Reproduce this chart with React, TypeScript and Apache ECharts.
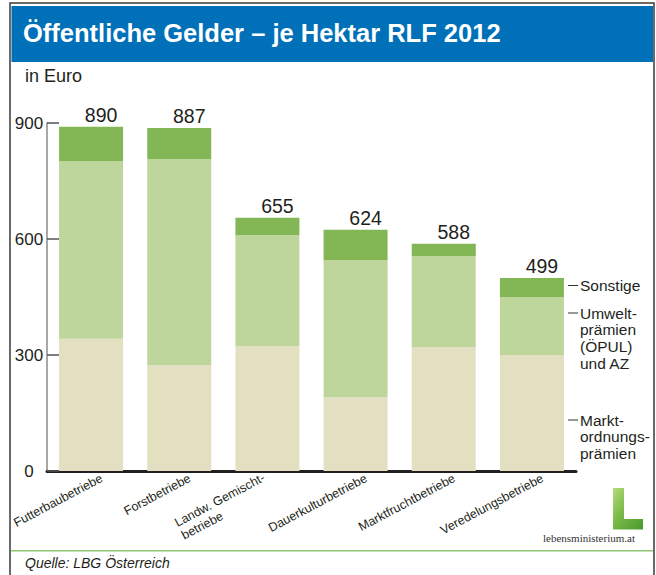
import React, { useEffect, useRef } from 'react';
import * as echarts from 'echarts';

const categories = [
  'Futterbaubetriebe',
  'Forstbetriebe',
  'Landw. Gemischt-\nbetriebe',
  'Dauerkulturbetriebe',
  'Marktfruchtbetriebe',
  'Veredelungsbetriebe',
];
const marktordnung = [342, 274, 323, 191, 321, 300];
const umwelt = [460, 533, 287, 355, 235, 150];
const sonstige = [88, 80, 45, 78, 32, 49];
const totals = [890, 887, 655, 624, 588, 499];
const yMin = 0;
const yMax = 900;
const yStep = 300;

const seriesNames = ['Marktordnungsprämien', 'Umweltprämien (ÖPUL) und AZ', 'Sonstige'];
const legendLines = [
  { text: 'Sonstige', y: 285.5 },
  { text: 'Umwelt-\nprämien\n(ÖPUL)\nund AZ', y: 313 },
  { text: 'Markt-\nordnungs-\nprämien', y: 420 },
];

const FONT = '"Liberation Sans", Arial, Helvetica, sans-serif';
const TXT = '#231f20';

export default function App() {
  const ref = useRef<HTMLDivElement>(null);
  useEffect(() => {
    const chart = echarts.init(ref.current!, null, { renderer: 'svg' });
    const barBase = { type: 'bar', stack: 'total', barWidth: 64, barCategoryGap: 0 };
    const xData = categories.map((c) =>
      c.indexOf('\n') >= 0 ? { value: c, textStyle: { padding: [0, 0, 0, 0] } } : c
    );
    chart.setOption({
      animation: false,
      textStyle: { fontFamily: FONT },
      grid: { left: 47, right: 80, top: 123, bottom: 104 },
      xAxis: {
        type: 'category',
        data: xData,
        axisLine: { show: true, lineStyle: { color: TXT, width: 3 } },
        axisTick: { show: false },
        axisLabel: {
          interval: 0,
          rotate: 28,
          margin: 12,
          padding: [0, -12, 0, 0],
          fontSize: 12.5,
          color: TXT,
          fontFamily: FONT,
          lineHeight: 14,
          formatter: (v: string) => {
            if (v.indexOf('\n') >= 0) {
              const parts = v.split('\n');
              return parts.map((p) => `{a|${p}}`).join('\n');
            }
            return v;
          },
          rich: {
            a: { align: 'left', fontSize: 12.5, color: TXT, fontFamily: FONT, lineHeight: 14.5 },
          },
        },
        splitLine: { show: false },
      },
      yAxis: {
        type: 'value',
        min: yMin,
        max: yMax,
        interval: yStep,
        axisLine: { show: true, lineStyle: { color: '#8a8a8a', width: 1.5 } },
        axisTick: { show: true, inside: true, length: 12, lineStyle: { color: '#555', width: 1.5 } },
        axisLabel: { margin: 18, align: 'center', fontSize: 17, color: TXT, fontFamily: FONT },
        splitLine: { show: false },
      },
      series: [
        { ...barBase, name: seriesNames[0], data: marktordnung, itemStyle: { color: '#e3dfc1' } },
        { ...barBase, name: seriesNames[1], data: umwelt, itemStyle: { color: '#bed69c' } },
        {
          ...barBase,
          name: seriesNames[2],
          data: sonstige,
          itemStyle: { color: '#83b655' },
          label: {
            show: true,
            position: 'top',
            distance: 2,
            offset: [10, 0],
            fontSize: 19.5,
            color: TXT,
            fontFamily: FONT,
            formatter: (p: any) => String(totals[p.dataIndex]),
          },
        },
      ],
      graphic: {
        elements: [
          {
            type: 'rect',
            shape: { x: 10, y: 3, width: 644, height: 640 },
            style: { fill: 'none', stroke: '#3a3a3a', lineWidth: 1.5 },
            silent: true,
          },
          {
            type: 'rect',
            shape: { x: 11.5, y: 6, width: 641.5, height: 56 },
            style: { fill: '#0070b8' },
            silent: true,
          },
          {
            type: 'text',
            x: 23,
            y: 33,
            style: {
              text: 'Öffentliche Gelder – je Hektar RLF 2012',
              fill: '#ffffff',
              font: `bold 25.5px ${FONT}`,
              textAlign: 'left',
              textVerticalAlign: 'middle',
              align: 'left',
              verticalAlign: 'middle',
            },
          },
          {
            type: 'text',
            x: 25,
            y: 75.5,
            style: {
              text: 'in Euro',
              fill: TXT,
              font: `18px ${FONT}`,
              textAlign: 'left',
              textVerticalAlign: 'middle',
              align: 'left',
              verticalAlign: 'middle',
            },
          },
          ...legendLines.map((l) => ({
            type: 'line',
            shape: { x1: 568, y1: l.y, x2: 578, y2: l.y },
            style: { stroke: '#333', lineWidth: 1 },
            silent: true,
          })),
          ...legendLines.map((l) => ({
            type: 'text',
            x: 580,
            y: l.y - 8.3,
            style: {
              text: l.text,
              fill: TXT,
              font: `15.5px ${FONT}`,
              lineHeight: 16.7,
              textAlign: 'left',
              textVerticalAlign: 'top',
              align: 'left',
              verticalAlign: 'top',
            },
          })),
          {
            type: 'polygon',
            shape: {
              points: [
                [613, 488],
                [624, 488],
                [624, 519],
                [643, 519],
                [643, 529.5],
                [613, 529.5],
              ],
            },
            style: {
              fill: {
                type: 'linear',
                x: 0,
                y: 0,
                x2: 1,
                y2: 1,
                colorStops: [
                  { offset: 0, color: '#b5dc7a' },
                  { offset: 0.45, color: '#78b947' },
                  { offset: 1, color: '#4b9a2c' },
                ],
              },
            },
            silent: true,
          },
          {
            type: 'text',
            x: 543,
            y: 538,
            style: {
              text: 'lebensministerium.at',
              fill: '#333',
              font: `11px "Liberation Serif", "Times New Roman", serif`,
              textAlign: 'left',
              textVerticalAlign: 'middle',
              align: 'left',
              verticalAlign: 'middle',
            },
          },
          {
            type: 'line',
            shape: { x1: 11, y1: 550.7, x2: 653, y2: 550.7 },
            style: { stroke: '#8fc873', lineWidth: 1.5 },
            silent: true,
          },
          {
            type: 'text',
            x: 25,
            y: 562.5,
            style: {
              text: 'Quelle: LBG Österreich',
              fill: TXT,
              font: `italic 14px ${FONT}`,
              textAlign: 'left',
              textVerticalAlign: 'middle',
              align: 'left',
              verticalAlign: 'middle',
            },
          },
        ],
      },
    });
    return () => chart.dispose();
  }, []);
  return (
    <div
      ref={ref}
      style={{ position: 'fixed', left: 0, top: 0, width: 656, height: 575, background: '#ffffff' }}
    />
  );
}
